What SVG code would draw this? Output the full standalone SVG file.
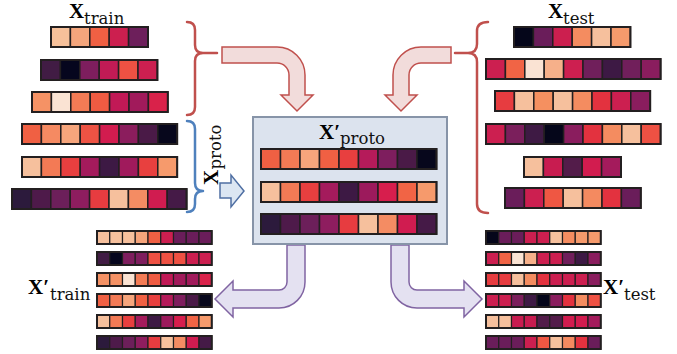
<svg xmlns="http://www.w3.org/2000/svg" width="677" height="354" viewBox="0 0 677 354">
<style>
.c{stroke:#231f20;stroke-width:1.5;height:20px;width:19.4px}
.m{stroke:#231f20;stroke-width:1.5;height:20px;width:19.5px}
.s{stroke:#231f20;stroke-width:1.2;height:13px;width:12.75px}
.o{fill:none;stroke:#231f20;stroke-width:2}
.X{font-family:"Liberation Serif",serif;font-weight:bold;font-size:21px;fill:#000}
.sub{font-family:"DejaVu Serif",serif;font-size:16.5px;fill:#111}
.rb{fill:none;stroke:#c0504d;stroke-width:2.5;stroke-linecap:round}
.bb{fill:none;stroke:#4f81bd;stroke-width:2.5;stroke-linecap:round}
.ra{fill:#f2dcdb;stroke:#c0504d;stroke-width:1.5}
.pa{fill:#e4e1f1;stroke:#8064a2;stroke-width:1.5}
.ba{fill:#dce6f2;stroke:#4f6fa3;stroke-width:1.5}
</style>
<rect width="677" height="354" fill="#fff"/>

<!-- labels -->
<g id="label-xtrain"><text class="X" x="69" y="18">X</text><text class="sub" x="84" y="24">train</text></g>
<g id="label-xtest"><text class="X" x="548" y="18">X</text><text class="sub" x="563" y="24">test</text></g>
<g id="label-xproto-rot" transform="translate(218,185) rotate(-90)"><text class="X" x="0" y="0">X</text><text class="sub" x="15.5" y="2.5">proto</text></g>
<g id="label-xtrain2"><text class="X" x="28" y="294">X′</text><text class="sub" x="50" y="300">train</text></g>
<g id="label-xtest2"><text class="X" x="603" y="294">X′</text><text class="sub" x="624" y="300">test</text></g>

<!-- braces -->
<g id="braces">
<path class="rb" d="M187,22 Q195,22 195,30 V45 Q195,53 203,53 H217 M203,53 Q195,53 195,61 V107 Q195,115 187,115"/>
<path class="rb" d="M488,22 Q477,22 477,31 V44 Q477,53 468,53 H455 M468,53 Q477,53 477,62 V204 Q477,213 488,213"/>
<path class="bb" d="M187,121 Q195,121 195,129 V183 Q195,191 203,191 M203,191 Q195,191 195,199 V204 Q195,212 187,212"/>
</g>

<!-- top-left X_train rows -->
<g id="train-rows">
<g transform="translate(51,27)"><rect class="c" x="0" fill="#f6c09a"/><rect class="c" x="19.4" fill="#f4a57c"/><rect class="c" x="38.8" fill="#f06043"/><rect class="c" x="58.2" fill="#cc1f4f"/><rect class="c" x="77.6" fill="#6d1f5b"/><rect class="o" width="97" height="20"/></g>
<g transform="translate(41,60)"><rect class="c" x="0" fill="#411c44"/><rect class="c" x="19.4" fill="#06061e"/><rect class="c" x="38.8" fill="#7e1e5e"/><rect class="c" x="58.2" fill="#c11b55"/><rect class="c" x="77.6" fill="#ee5143"/><rect class="c" x="97" fill="#cc1f50"/><rect class="o" width="116.4" height="20"/></g>
<g transform="translate(32,92)"><rect class="c" x="0" fill="#f59265"/><rect class="c" x="19.4" fill="#fae3d3"/><rect class="c" x="38.8" fill="#f37b55"/><rect class="c" x="58.2" fill="#ef5b42"/><rect class="c" x="77.6" fill="#c11956"/><rect class="c" x="97" fill="#a11a5b"/><rect class="c" x="116.4" fill="#d9224a"/><rect class="o" width="135.8" height="20"/></g>
<g transform="translate(22,124)"><rect class="c" x="0" fill="#f06043"/><rect class="c" x="19.4" fill="#f58a62"/><rect class="c" x="38.8" fill="#f6a57c"/><rect class="c" x="58.2" fill="#ee5344"/><rect class="c" x="77.6" fill="#d21c4f"/><rect class="c" x="97" fill="#8b1d5d"/><rect class="c" x="116.4" fill="#4a1a47"/><rect class="c" x="135.8" fill="#07071c"/><rect class="o" width="155.2" height="20"/></g>
<g transform="translate(22,157)"><rect class="c" x="0" fill="#f6c09d"/><rect class="c" x="19.4" fill="#f37a55"/><rect class="c" x="38.8" fill="#e83f3f"/><rect class="c" x="58.2" fill="#a41b5c"/><rect class="c" x="77.6" fill="#3d1944"/><rect class="c" x="97" fill="#a01a5c"/><rect class="c" x="116.4" fill="#e8403f"/><rect class="c" x="135.8" fill="#f69a6c"/><rect class="o" width="155.2" height="20"/></g>
<g transform="translate(12,189)"><rect class="c" x="0" fill="#2c1a3c"/><rect class="c" x="19.4" fill="#4e1a4a"/><rect class="c" x="38.8" fill="#6c1f5a"/><rect class="c" x="58.2" fill="#8e1d5f"/><rect class="c" x="77.6" fill="#e73c40"/><rect class="c" x="97" fill="#f6c09d"/><rect class="c" x="116.4" fill="#f48c63"/><rect class="c" x="135.8" fill="#d01c50"/><rect class="c" x="155.2" fill="#451a47"/><rect class="o" width="174.6" height="20"/></g>
</g>

<!-- top-right X_test rows -->
<g id="test-rows">
<g transform="translate(514,27)"><rect class="c" x="0" fill="#05061a"/><rect class="c" x="19.4" fill="#6a1d5a"/><rect class="c" x="38.8" fill="#cc1f4f"/><rect class="c" x="58.2" fill="#f48c60"/><rect class="c" x="77.6" fill="#f6c09d"/><rect class="c" x="97" fill="#f59a6c"/><rect class="o" width="116.4" height="20"/></g>
<g transform="translate(486,59)"><rect class="c" x="0" fill="#cc1f50"/><rect class="c" x="19.4" fill="#f16445"/><rect class="c" x="38.8" fill="#fae3d3"/><rect class="c" x="58.2" fill="#f6b08a"/><rect class="c" x="77.6" fill="#cd1f50"/><rect class="c" x="97" fill="#701f5b"/><rect class="c" x="116.4" fill="#3d1944"/><rect class="c" x="135.8" fill="#711f5b"/><rect class="c" x="155.2" fill="#8a1d5e"/><rect class="o" width="174.6" height="20"/></g>
<g transform="translate(495,91)"><rect class="c" x="0" fill="#e73c40"/><rect class="c" x="19.4" fill="#f6c09d"/><rect class="c" x="38.8" fill="#f59060"/><rect class="c" x="58.2" fill="#f6c09d"/><rect class="c" x="77.6" fill="#f48c60"/><rect class="c" x="97" fill="#e3323f"/><rect class="c" x="116.4" fill="#cc1f50"/><rect class="c" x="135.8" fill="#8a1d5e"/><rect class="o" width="155.2" height="20"/></g>
<g transform="translate(486,124)"><rect class="c" x="0" fill="#cc1f50"/><rect class="c" x="19.4" fill="#7b1f5c"/><rect class="c" x="38.8" fill="#3e1a44"/><rect class="c" x="58.2" fill="#05061a"/><rect class="c" x="77.6" fill="#8a1d5e"/><rect class="c" x="97" fill="#e3323f"/><rect class="c" x="116.4" fill="#f48c60"/><rect class="c" x="135.8" fill="#f6c09d"/><rect class="c" x="155.2" fill="#ee5143"/><rect class="o" width="174.6" height="20"/></g>
<g transform="translate(524,157)"><rect class="c" x="0" fill="#f6c09d"/><rect class="c" x="19.4" fill="#c81c50"/><rect class="c" x="38.8" fill="#531c4a"/><rect class="c" x="58.2" fill="#d21c4f"/><rect class="c" x="77.6" fill="#a41b5c"/><rect class="o" width="97" height="20"/></g>
<g transform="translate(505,188)"><rect class="c" x="0" fill="#6a1d5a"/><rect class="c" x="19.4" fill="#cc1f50"/><rect class="c" x="38.8" fill="#ef5743"/><rect class="c" x="58.2" fill="#f6c09d"/><rect class="c" x="77.6" fill="#f48a60"/><rect class="c" x="97" fill="#e3323f"/><rect class="c" x="116.4" fill="#6a1d5a"/><rect class="o" width="135.8" height="20"/></g>
</g>

<!-- connectors -->
<g id="connectors">
<path class="ra" d="M222,47 H277 A28,28 0 0 1 305,75 V95 H313 L297,111 L281,95 H289 V75 A12,12 0 0 0 277,63 H222 Z"/>
<path class="ra" d="M451,47 H421 A28,28 0 0 0 393,75 V95 H385 L401,111 L417,95 H409 V75 A12,12 0 0 1 421,63 H451 Z"/>
<path class="ba" d="M220,183 H231 V175 L244,191 L231,207 V198 H220 Z"/>
<path class="pa" d="M287,245 V282 A8,8 0 0 1 279,290 H233 V281 L215,299 L233,317 V308 H279 A26,26 0 0 0 305,282 V245 Z"/>
<path class="pa" d="M409,245 V282 A8,8 0 0 0 417,290 H464 V281 L482,299 L464,317 V308 H417 A26,26 0 0 1 391,282 V245 Z"/>
</g>

<!-- prototype box -->
<g id="proto-box">
<rect x="253" y="117" width="194" height="127" fill="#dce3ee" stroke="#8794a8" stroke-width="2"/>
<text class="X" x="319" y="139">X′</text><text class="sub" x="340" y="144">proto</text>
<g transform="translate(261,149)"><rect class="m" x="0" fill="#f06043"/><rect class="m" x="19.5" fill="#f37a55"/><rect class="m" x="39" fill="#f6a57c"/><rect class="m" x="58.5" fill="#f06043"/><rect class="m" x="78" fill="#e83f3f"/><rect class="m" x="97.5" fill="#b51b5a"/><rect class="m" x="117" fill="#7e1e5e"/><rect class="m" x="136.5" fill="#4a1a47"/><rect class="m" x="156" fill="#07071c"/><rect class="o" width="175.5" height="20"/></g>
<g transform="translate(261,182)"><rect class="m" x="0" fill="#f6c09d"/><rect class="m" x="19.5" fill="#f37a55"/><rect class="m" x="39" fill="#e83f3f"/><rect class="m" x="58.5" fill="#a41b5c"/><rect class="m" x="78" fill="#3d1944"/><rect class="m" x="97.5" fill="#9c1a5c"/><rect class="m" x="117" fill="#d71e4d"/><rect class="m" x="136.5" fill="#f16445"/><rect class="m" x="156" fill="#f69a6c"/><rect class="o" width="175.5" height="20"/></g>
<g transform="translate(261,214)"><rect class="m" x="0" fill="#2c1a3c"/><rect class="m" x="19.5" fill="#4e1a4a"/><rect class="m" x="39" fill="#6c1f5a"/><rect class="m" x="58.5" fill="#8e1d5f"/><rect class="m" x="78" fill="#e73c40"/><rect class="m" x="97.5" fill="#f6c09d"/><rect class="m" x="117" fill="#f48c63"/><rect class="m" x="136.5" fill="#d01c50"/><rect class="m" x="156" fill="#451a47"/><rect class="o" width="175.5" height="20"/></g>
</g>

<!-- bottom-left X'_train -->
<g id="train2-rows">
<g transform="translate(97,231)"><rect class="s" x="0" fill="#f6c09d"/><rect class="s" x="12.75" fill="#f6c09d"/><rect class="s" x="25.5" fill="#f6c09d"/><rect class="s" x="38.25" fill="#f6a57c"/><rect class="s" x="51" fill="#f06043"/><rect class="s" x="63.75" fill="#cc1f50"/><rect class="s" x="76.5" fill="#6a1d5a"/><rect class="s" x="89.25" fill="#6a1d5a"/><rect class="s" x="102" fill="#6a1d5a"/><rect class="o" width="114.75" height="13"/></g>
<g transform="translate(97,252)"><rect class="s" x="0" fill="#411c44"/><rect class="s" x="12.75" fill="#06061e"/><rect class="s" x="25.5" fill="#7e1e5e"/><rect class="s" x="38.25" fill="#7e1e5e"/><rect class="s" x="51" fill="#ee5143"/><rect class="s" x="63.75" fill="#ee5143"/><rect class="s" x="76.5" fill="#ee5143"/><rect class="s" x="89.25" fill="#cc1f50"/><rect class="s" x="102" fill="#cc1f50"/><rect class="o" width="114.75" height="13"/></g>
<g transform="translate(97,273)"><rect class="s" x="0" fill="#f59265"/><rect class="s" x="12.75" fill="#f59265"/><rect class="s" x="25.5" fill="#fae3d3"/><rect class="s" x="38.25" fill="#f37b55"/><rect class="s" x="51" fill="#ef5b42"/><rect class="s" x="63.75" fill="#c11956"/><rect class="s" x="76.5" fill="#a11a5b"/><rect class="s" x="89.25" fill="#a11a5b"/><rect class="s" x="102" fill="#d9224a"/><rect class="o" width="114.75" height="13"/></g>
<g transform="translate(97,294)"><rect class="s" x="0" fill="#f06043"/><rect class="s" x="12.75" fill="#f37a55"/><rect class="s" x="25.5" fill="#f6a57c"/><rect class="s" x="38.25" fill="#f06043"/><rect class="s" x="51" fill="#e83f3f"/><rect class="s" x="63.75" fill="#b51b5a"/><rect class="s" x="76.5" fill="#7e1e5e"/><rect class="s" x="89.25" fill="#4a1a47"/><rect class="s" x="102" fill="#07071c"/><rect class="o" width="114.75" height="13"/></g>
<g transform="translate(97,315)"><rect class="s" x="0" fill="#f6c09d"/><rect class="s" x="12.75" fill="#f37a55"/><rect class="s" x="25.5" fill="#e83f3f"/><rect class="s" x="38.25" fill="#a41b5c"/><rect class="s" x="51" fill="#3d1944"/><rect class="s" x="63.75" fill="#9c1a5c"/><rect class="s" x="76.5" fill="#d71e4d"/><rect class="s" x="89.25" fill="#f16445"/><rect class="s" x="102" fill="#f69a6c"/><rect class="o" width="114.75" height="13"/></g>
<g transform="translate(97,336)"><rect class="s" x="0" fill="#2c1a3c"/><rect class="s" x="12.75" fill="#4e1a4a"/><rect class="s" x="25.5" fill="#6c1f5a"/><rect class="s" x="38.25" fill="#8e1d5f"/><rect class="s" x="51" fill="#e73c40"/><rect class="s" x="63.75" fill="#f6c09d"/><rect class="s" x="76.5" fill="#f48c63"/><rect class="s" x="89.25" fill="#d01c50"/><rect class="s" x="102" fill="#451a47"/><rect class="o" width="114.75" height="13"/></g>
</g>

<!-- bottom-right X'_test -->
<g id="test2-rows">
<g transform="translate(486,231)"><rect class="s" x="0" fill="#05061a"/><rect class="s" x="12.75" fill="#6a1d5a"/><rect class="s" x="25.5" fill="#6a1d5a"/><rect class="s" x="38.25" fill="#cc1f50"/><rect class="s" x="51" fill="#cc1f50"/><rect class="s" x="63.75" fill="#f6c09d"/><rect class="s" x="76.5" fill="#f48c60"/><rect class="s" x="89.25" fill="#f59a6c"/><rect class="s" x="102" fill="#f59a6c"/><rect class="o" width="114.75" height="13"/></g>
<g transform="translate(486,252)"><rect class="s" x="0" fill="#cc1f50"/><rect class="s" x="12.75" fill="#f16445"/><rect class="s" x="25.5" fill="#fae3d3"/><rect class="s" x="38.25" fill="#f6b08a"/><rect class="s" x="51" fill="#cd1f50"/><rect class="s" x="63.75" fill="#cd1f50"/><rect class="s" x="76.5" fill="#701f5b"/><rect class="s" x="89.25" fill="#3d1944"/><rect class="s" x="102" fill="#8a1d5e"/><rect class="o" width="114.75" height="13"/></g>
<g transform="translate(486,273)"><rect class="s" x="0" fill="#e73c40"/><rect class="s" x="12.75" fill="#e73c40"/><rect class="s" x="25.5" fill="#f6c09d"/><rect class="s" x="38.25" fill="#f48c60"/><rect class="s" x="51" fill="#e3323f"/><rect class="s" x="63.75" fill="#cc1f50"/><rect class="s" x="76.5" fill="#cc1f50"/><rect class="s" x="89.25" fill="#cc1f50"/><rect class="s" x="102" fill="#8a1d5e"/><rect class="o" width="114.75" height="13"/></g>
<g transform="translate(486,294)"><rect class="s" x="0" fill="#cc1f50"/><rect class="s" x="12.75" fill="#cc1f50"/><rect class="s" x="25.5" fill="#7b1f5c"/><rect class="s" x="38.25" fill="#3e1a44"/><rect class="s" x="51" fill="#05061a"/><rect class="s" x="63.75" fill="#8a1d5e"/><rect class="s" x="76.5" fill="#e3323f"/><rect class="s" x="89.25" fill="#f48c60"/><rect class="s" x="102" fill="#ee5143"/><rect class="o" width="114.75" height="13"/></g>
<g transform="translate(486,315)"><rect class="s" x="0" fill="#f6c09d"/><rect class="s" x="12.75" fill="#f6c09d"/><rect class="s" x="25.5" fill="#c81c50"/><rect class="s" x="38.25" fill="#c81c50"/><rect class="s" x="51" fill="#531c4a"/><rect class="s" x="63.75" fill="#531c4a"/><rect class="s" x="76.5" fill="#d21c4f"/><rect class="s" x="89.25" fill="#d21c4f"/><rect class="s" x="102" fill="#a41b5c"/><rect class="o" width="114.75" height="13"/></g>
<g transform="translate(486,336)"><rect class="s" x="0" fill="#6a1d5a"/><rect class="s" x="12.75" fill="#6a1d5a"/><rect class="s" x="25.5" fill="#6a1d5a"/><rect class="s" x="38.25" fill="#cc1f50"/><rect class="s" x="51" fill="#ef5743"/><rect class="s" x="63.75" fill="#f6c09d"/><rect class="s" x="76.5" fill="#f48a60"/><rect class="s" x="89.25" fill="#e3323f"/><rect class="s" x="102" fill="#6a1d5a"/><rect class="o" width="114.75" height="13"/></g>
</g>
</svg>
